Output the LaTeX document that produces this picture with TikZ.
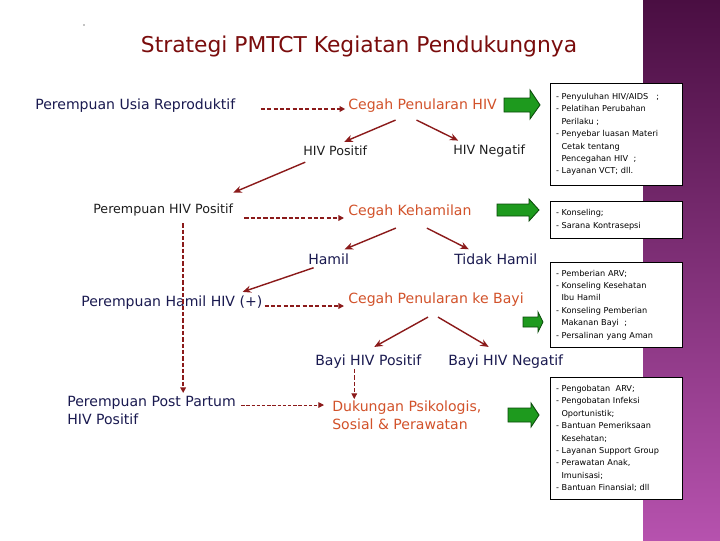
\documentclass[tikz,border=0pt]{standalone}
\usepackage{fontspec}
\setmainfont{DejaVu Sans}
\usetikzlibrary{arrows.meta,calc}

\definecolor{titlered}{HTML}{7A0C0C}
\definecolor{navytext}{HTML}{1A1A50}
\definecolor{graytext}{HTML}{1E1E1E}
\definecolor{orangetext}{HTML}{D2522A}
\definecolor{arrowred}{HTML}{8B1A1A}
\definecolor{arrowgreen}{HTML}{1E9A1E}
\definecolor{greenline}{HTML}{0A4A0A}
\definecolor{purpletop}{HTML}{4A0E42}
\definecolor{purplebot}{HTML}{B652AE}

\newcommand{\ind}{\hspace*{3.9pt}}

\tikzset{
  lbl/.style={anchor=west, inner sep=0pt, font=\fontsize{10}{12.6}\selectfont, text=navytext},
  thinlbl/.style={lbl, font=\fontsize{9}{11}\selectfont, text=graytext},
  cegah/.style={lbl, text=orangetext},
  arr/.style={draw=arrowred, line width=1pt, -{Stealth[length=6pt,width=5pt]}},
  dasharr/.style={draw=arrowred, line width=1pt, dash pattern=on 3pt off 1.5pt,
    -{Triangle[length=4pt,width=4pt]}},
  garrow/.style={fill=arrowgreen, draw=greenline, line width=0.6pt},
  infobox/.style={draw=black, line width=0.6pt, fill=white, anchor=north west,
    inner xsep=4pt, inner ysep=0pt, text width=86pt, align=left,
    font=\fontsize{5.8}{8.8}\selectfont}
}

\begin{document}
\begin{tikzpicture}[x=0.025cm, y=-0.025cm]
  \useasboundingbox[fill=white] (0,0) rectangle (720,540);
  \shade[top color=purpletop, bottom color=purplebot] (643,0) rectangle (720,540);
  \fill[black] (84,25) circle (0.5pt);

  \node[anchor=center, inner sep=0pt, font=\fontsize{15.5}{18}\selectfont, text=titlered]
    (title) at (359,46) {Strategi PMTCT Kegiatan Pendukungnya};

  % left column
  \node[lbl] (pur) at (35,106) {Perempuan Usia Reproduktif};
  \node[thinlbl] (phpos) at (93,210) {Perempuan HIV Positif};
  \node[lbl] (phamil) at (81,303) {Perempuan Hamil HIV (+)};
  \node[lbl, anchor=north west, align=left] (ppp) at (67,396) {Perempuan Post Partum\\HIV Positif};

  % middle column
  \node[cegah] (cph) at (348,106) {Cegah Penularan HIV};
  \node[thinlbl] (hivpos) at (303,151) {HIV Positif};
  \node[thinlbl] (hivneg) at (453,151) {HIV Negatif};
  \node[cegah] (ckh) at (348,212) {Cegah Kehamilan};
  \node[lbl] (hamil) at (308,259) {Hamil};
  \node[lbl] (thamil) at (454,259) {Tidak Hamil};
  \node[cegah] (cpb) at (348,300) {Cegah Penularan ke Bayi};
  \node[lbl] (bpos) at (315,362) {Bayi HIV Positif};
  \node[lbl] (bneg) at (448,362) {Bayi HIV Negatif};
  \node[cegah, anchor=north west, align=left] (dpk) at (332,401) {Dukungan Psikologis,\\Sosial \& Perawatan};

  % connectors
  \draw[dasharr, shorten <=18pt, shorten >=2pt] ($(pur.east)+(0,3)$) -- ($(cph.west)+(0,3)$);
  \draw[arr] ($(cph.south)+(-27,7)$) -- ($(hivpos.north)+(9,-4)$);
  \draw[arr] ($(cph.south)+(-6,7)$) -- ($(hivneg.north)+(-31,-4)$);
  \draw[arr] ($(hivpos.south)+(-30,6)$) -- ($(phpos.north east)+(0,-11)$);
  \draw[dasharr] ($(phpos.east)+(11,8)$) -- ($(ckh.west)+(-4,6)$);
  \draw[arr] ($(ckh.south)+(-14,9)$) -- ($(hamil.north)+(16,-4)$);
  \draw[arr] ($(ckh.south)+(17,9)$) -- ($(thamil.north)+(-27,-4)$);
  \draw[arr] ($(hamil.south)+(-15,3)$) -- ($(phamil.north east)+(-20,-4)$);
  \draw[dasharr] ($(phamil.east)+(2,3)$) -- ($(cpb.west)+(-4,6)$);
  \draw[arr] ($(cpb.south)+(-8,10)$) -- ($(bpos.north)+(6,-8)$);
  \draw[arr] ($(cpb.south)+(2,10)$) -- ($(bneg.north)+(-17,-8)$);
  \draw[dasharr, line width=0.8pt] ($(bpos.south)+(-14,0)$) -- ($(bpos.south |- dpk.north)+(-14,-2)$);
  \draw[dasharr] ($(phpos.south)+(20,7)$) -- ($(phpos.south |- ppp.north)+(20,-3)$);
  \draw[dasharr, line width=0.7pt, dash pattern=on 2.5pt off 1.2pt] ($(ppp.north east)+(5,9)$) -- ($(dpk.north west)+(-8,4)$);

  % green arrows
  \filldraw[garrow] (504,98) -- (530,98) -- (530,90) -- (540,105) -- (530,119) -- (530,112) -- (504,112) -- cycle;
  \filldraw[garrow] (497,204) -- (529,204) -- (529,199) -- (539,210) -- (529,221) -- (529,216) -- (497,216) -- cycle;
  \filldraw[garrow] (523,317) -- (538,317) -- (538,312) -- (543,322) -- (538,332) -- (538,327) -- (523,327) -- cycle;
  \filldraw[garrow] (508,408) -- (531,408) -- (531,403) -- (539,415) -- (531,427) -- (531,422) -- (508,422) -- cycle;

  % boxes
  \node[infobox, minimum height=72.5pt] (box1) at (550,83) {%
    - Penyuluhan HIV/AIDS\quad ;\\
    - Pelatihan Perubahan\\
    \ind Perilaku ;\\
    - Penyebar luasan Materi\\
    \ind Cetak tentang\\
    \ind Pencegahan HIV\ \ ;\\
    - Layanan VCT; dll.};
  \node[infobox, minimum height=26.3pt] (box2) at (550,201) {%
    - Konseling;\\
    - Sarana Kontrasepsi};
  \node[infobox, minimum height=60.4pt] (box3) at (550,262) {%
    - Pemberian ARV;\\
    - Konseling Kesehatan\\
    \ind Ibu Hamil\\
    - Konseling Pemberian\\
    \ind Makanan Bayi\ \ ;\\
    - Persalinan yang Aman};
  \node[infobox, minimum height=86.7pt] (box4) at (550,377) {%
    - Pengobatan\ \ ARV;\\
    - Pengobatan Infeksi\\
    \ind Oportunistik;\\
    - Bantuan Pemeriksaan\\
    \ind Kesehatan;\\
    - Layanan Support Group\\
    - Perawatan Anak,\\
    \ind Imunisasi;\\
    - Bantuan Finansial; dll};
\end{tikzpicture}
\end{document}
